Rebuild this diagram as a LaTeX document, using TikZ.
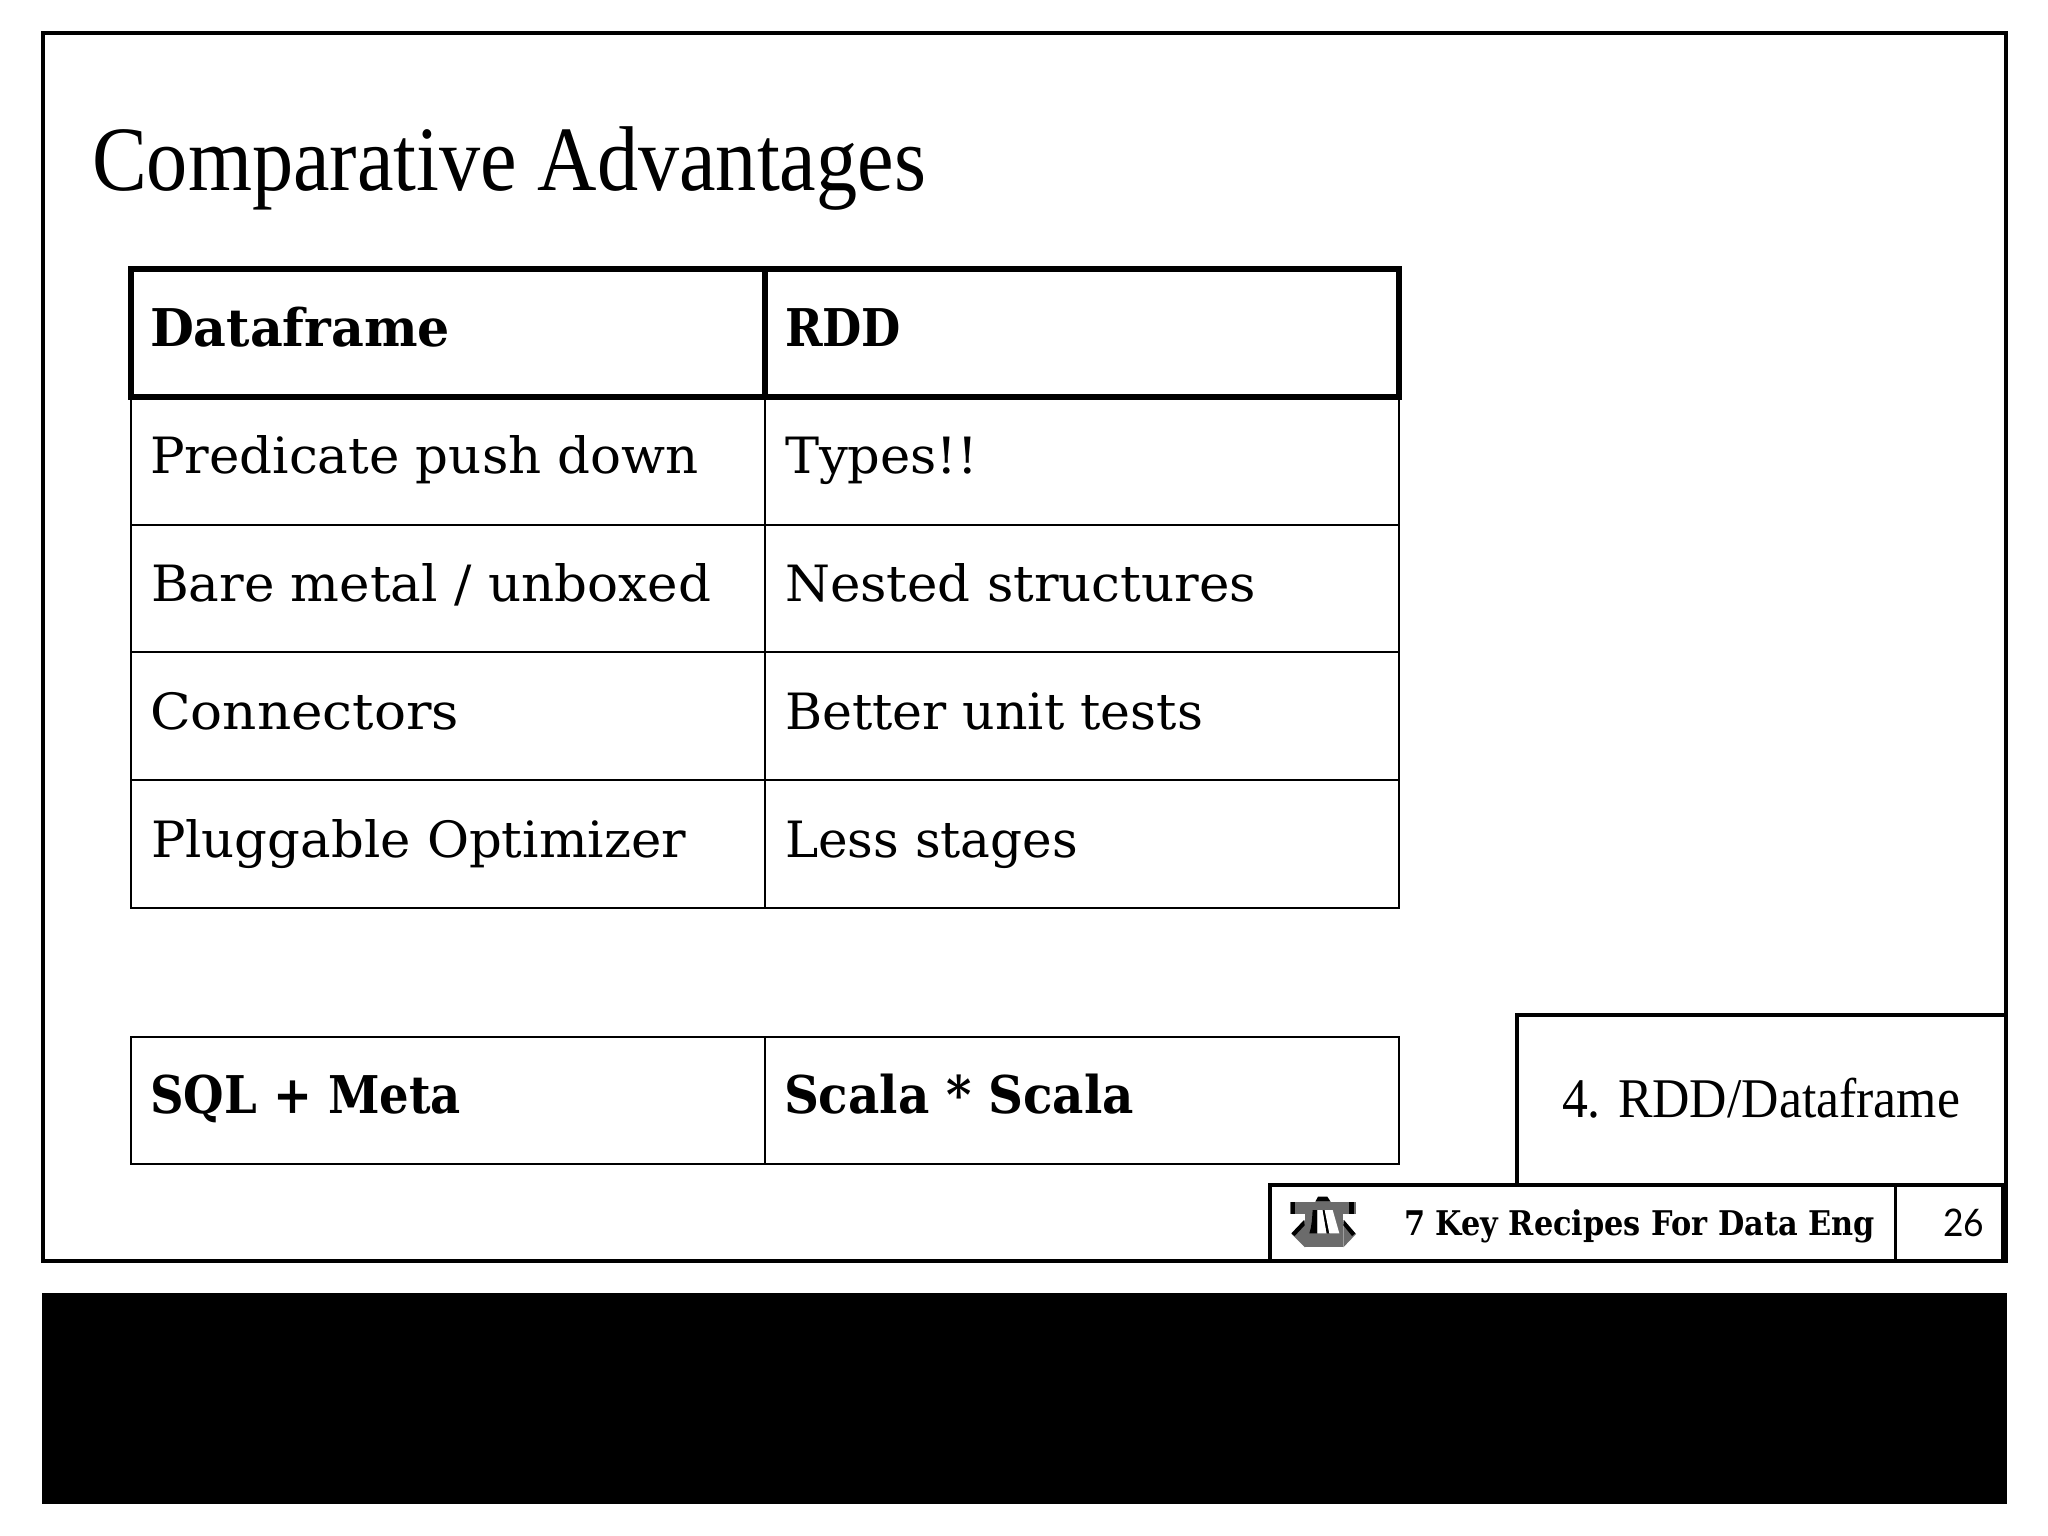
\documentclass[tikz,border=0pt]{standalone}
\usepackage{graphicx}
\usepackage{fontspec}
\setmainfont{DejaVu Serif}
\newfontfamily\garafont{Liberation Serif}
\newfontfamily\numfont{Lato}
\newcommand\fitw[2]{\resizebox{#1pt}{\height}{#2}}
\definecolor{logogray}{gray}{0.42}
\tikzset{
  frameline/.style={draw=black,line width=4.5pt},
  thinrule/.style={draw=black,line width=1.8pt},
  thickrule/.style={draw=black,line width=5.5pt},
  txt/.style={anchor=base west,inner sep=0pt,outer sep=0pt,text=black},
  cell/.style={txt,font=\fontsize{50}{60}\selectfont},
  headcell/.style={txt,font=\fontsize{52}{60}\selectfont\bfseries},
}
\begin{document}
\begin{tikzpicture}[x=1pt,y=-1pt]
\useasboundingbox (0,0) rectangle (2048,1536);
\fill[white] (0,0) rectangle (2048,1536);
% slide frame
\draw[frameline] (43,33) rectangle (2006,1261);
\fill[black] (42,1293) rectangle (2007,1504);
% title
\node[txt,font=\garafont\fontsize{92}{100}\selectfont] (title) at (92,190) {\fitw{834}{Comparative Advantages}};
% table rules
\draw[thinrule] (131,396) -- (131,908) -- (1399,908) -- (1399,396);
\draw[thinrule] (131,525) -- (1399,525);
\draw[thinrule] (131,652) -- (1399,652);
\draw[thinrule] (131,780) -- (1399,780);
\draw[thinrule] (765,396) -- (765,908);
\draw[thickrule] (131,269) rectangle (1399,397);
\draw[thickrule] (765,269) -- (765,397);
% bottom row
\draw[thinrule] (131,1037) rectangle (1399,1164);
\draw[thinrule] (765,1037) -- (765,1164);
% cell text
\node[headcell] (h1) at (150,346) {\fitw{300}{Dataframe}};
\node[headcell] (h2) at (785,346) {\fitw{116}{RDD}};
\node[cell] (a1) at (150,473) {\fitw{549}{Predicate push down}};
\node[cell] (b1) at (785,473) {\fitw{193}{Types!!}};
\node[cell] (a2) at (151,601) {\fitw{560}{Bare metal / unboxed}};
\node[cell] (b2) at (785,601) {\fitw{471}{Nested structures}};
\node[cell] (a3) at (150,729) {\fitw{309}{Connectors}};
\node[cell] (b3) at (785,729) {\fitw{418}{Better unit tests}};
\node[cell] (a4) at (151,857) {\fitw{535}{Pluggable Optimizer}};
\node[cell] (b4) at (785,857) {\fitw{293}{Less stages}};
\node[headcell] (s1) at (150,1113) {\fitw{311}{SQL + Meta}};
\node[headcell] (s2) at (784,1113) {\fitw{350}{Scala * Scala}};
% section box
\draw[frameline] (1517,1183) -- (1517,1015) -- (2006,1015);
\node[txt,font=\garafont\fontsize{56}{60}\selectfont] (sec) at (1562,1117) {\fitw{398}{4. RDD/Dataframe}};
% footer
\draw[frameline] (1270,1261) -- (1270,1185) -- (2003,1185) -- (2003,1261);
\draw[draw=black,line width=3pt] (1895,1185) -- (1895,1261);
\node[txt,font=\fontsize{34}{40}\selectfont\bfseries] (foot) at (1404,1235) {\fitw{471}{7 Key Recipes For Data Eng}};
\node[txt,font=\numfont\fontsize{38}{40}\selectfont] (num) at (1943,1236) {\fitw{41}{26}};
% logo
\begin{scope}[shift={(1280,1190)},x=0.3333pt,y=-0.3333pt]
  \fill[logogray] (30,35) rectangle (228,72);
  \fill[logogray] (75,35) rectangle (190,172);
  \fill[logogray] (75,90) -- (35,132) -- (75,172) -- cycle;
  \fill[logogray] (190,90) -- (228,132) -- (190,172) -- cycle;
  \fill[black] (32,35) rectangle (46,72);
  \fill[black] (208,35) rectangle (222,72);
  \fill[black] (106,35) -- (114,20) -- (142,20) -- (152,35) -- cycle;
  \fill[black] (72,90) -- (34,130) -- (44,138) -- (74,106) -- cycle;
  \fill[black] (192,90) -- (226,130) -- (216,138) -- (190,106) -- cycle;
  \fill[black] (88,130) .. controls (96,105) and (96,85) .. (98,60) -- (112,60) -- (112,130) -- cycle;
  \fill[white] (112,130) -- (112,60) -- (128,60) -- (140,130) -- cycle;
  \fill[black] (128,60) -- (134,60) -- (148,130) -- (140,130) -- cycle;
  \fill[white] (134,60) -- (158,60) -- (178,130) -- (148,130) -- cycle;
\end{scope}
\end{tikzpicture}
\end{document}
